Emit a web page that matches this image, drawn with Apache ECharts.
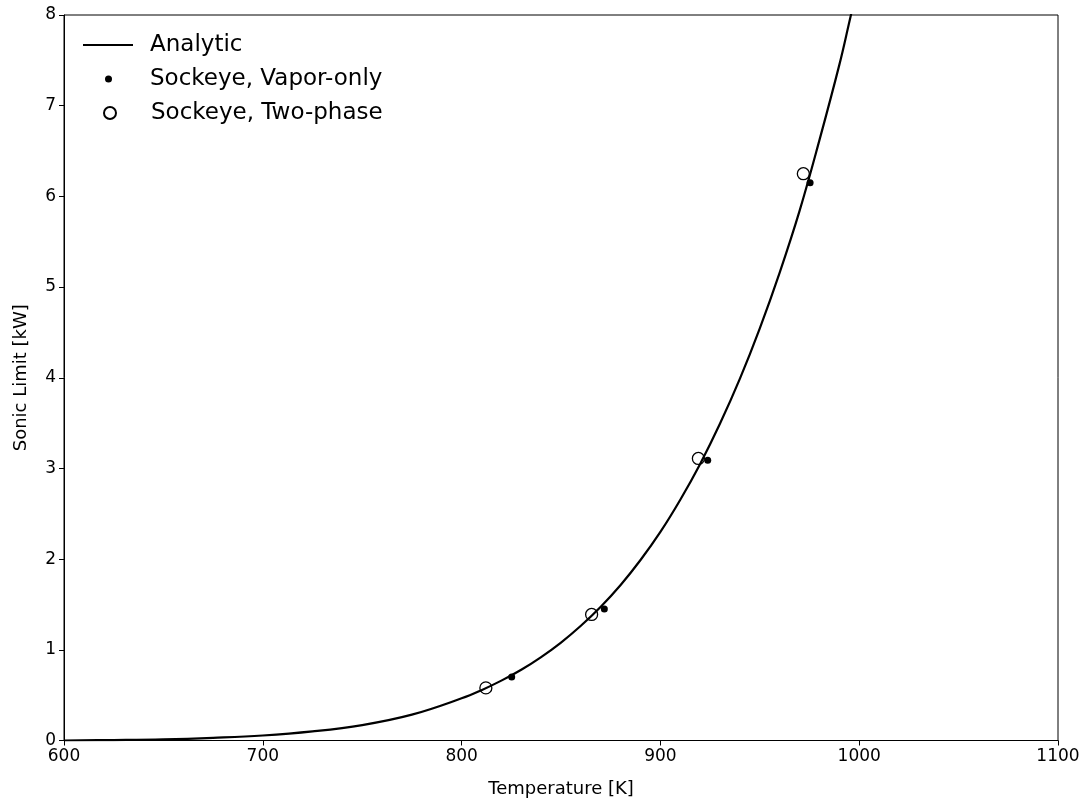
<!DOCTYPE html>
<html>
<head>
<meta charset="utf-8">
<script src="https://cdn.jsdelivr.net/npm/echarts@6/dist/echarts.min.js"></script>
<style>
  html, body { margin: 0; padding: 0; background: #fff; }
  #chart { width: 1087px; height: 801px; }
</style>
</head>
<body>
<div id="chart"></div>
<script>
// analytic curve
const analyticT = [600, 625, 650, 675, 700, 725, 750, 775, 800, 810, 820, 830, 840, 850, 860, 870, 880, 890, 900, 910, 920, 930, 940, 950, 960, 970, 980, 990, 995, 1000];
const analyticQ = [0.0, 0.005, 0.013, 0.03, 0.055, 0.1, 0.17, 0.285, 0.465, 0.555, 0.66, 0.78, 0.92, 1.08, 1.265, 1.475, 1.715, 1.99, 2.30, 2.655, 3.05, 3.495, 3.99, 4.545, 5.16, 5.84, 6.62, 7.45, 7.92, 8.4];

// Sockeye results
const vaporT = [825.2, 871.8, 923.8, 975.3];
const vaporQ = [0.70, 1.45, 3.09, 6.15];
const twoPhaseT = [812.2, 865.4, 919.1, 971.9];
const twoPhaseQ = [0.58, 1.39, 3.11, 6.25];

const xTicks = [600, 700, 800, 900, 1000, 1100];
const yTicks = [0, 1, 2, 3, 4, 5, 6, 7, 8];

const zip = (a, b) => a.map((v, i) => [v, b[i]]);

const chart = echarts.init(document.getElementById('chart'));
const font = 'DejaVu Sans';

const legendText = { fontFamily: font, fontSize: 23, color: '#000', lineHeight: 26 };
const legendBase = { orient: 'vertical', selectedMode: false, padding: 0 };

const option = {
  animation: false,
  backgroundColor: '#fff',
  textStyle: { fontFamily: font },
  grid: {
    left: 64, right: 29, top: 15, bottom: 60.5,
    containLabel: false, outerBoundsMode: 'none',
    show: true, borderColor: '#000', borderWidth: 1, backgroundColor: 'transparent',
  },
  legend: [
    Object.assign({}, legendBase, {
      data: [{ name: 'Analytic', icon: 'rect' }],
      left: 83, top: 45 - 13, itemWidth: 50, itemHeight: 2.2,
      textStyle: Object.assign({}, legendText, { padding: [0, 0, 0, 12] }),
    }),
    Object.assign({}, legendBase, {
      data: [{ name: 'Sockeye, Vapor-only', icon: 'circle' }],
      left: 105, top: 79 - 13, itemWidth: 7, itemHeight: 7,
      textStyle: Object.assign({}, legendText, { padding: [0, 0, 0, 33] }),
    }),
    Object.assign({}, legendBase, {
      data: [{ name: 'Sockeye, Two-phase', icon: 'circle' }],
      left: 103, top: 113 - 13, itemWidth: 12, itemHeight: 12,
      textStyle: Object.assign({}, legendText, { padding: [0, 0, 0, 30] }),
    }),
  ],
  xAxis: {
    type: 'value',
    min: xTicks[0], max: xTicks[xTicks.length - 1], interval: 100,
    name: 'Temperature [K]', nameLocation: 'middle', nameGap: 40,
    nameTextStyle: { fontFamily: font, fontSize: 18, color: '#000' },
    axisLine: { onZero: false, lineStyle: { color: '#000', width: 1 } },
    axisTick: { show: true, inside: false, length: 5, lineStyle: { color: '#000' } },
    axisLabel: { fontFamily: font, fontSize: 17, color: '#000', margin: 8, formatter: (v) => String(v) },
    splitLine: { show: false },
  },
  yAxis: {
    type: 'value',
    min: yTicks[0], max: yTicks[yTicks.length - 1], interval: 1,
    name: 'Sonic Limit [kW]', nameLocation: 'middle', nameGap: 34,
    nameTextStyle: { fontFamily: font, fontSize: 18, color: '#000' },
    axisLine: { onZero: false, lineStyle: { color: '#000', width: 1 } },
    axisTick: { show: true, inside: false, length: 5, lineStyle: { color: '#000' } },
    axisLabel: { fontFamily: font, fontSize: 17, color: '#000', margin: 8, formatter: (v) => String(v) },
    splitLine: { show: false },
  },
  series: [
    {
      name: 'Analytic',
      type: 'line',
      data: zip(analyticT, analyticQ),
      smooth: 0.4,
      showSymbol: false,
      symbol: 'none',
      clip: true,
      lineStyle: { color: '#000', width: 2.2 },
      itemStyle: { color: '#000' },
      z: 2,
    },
    {
      name: 'Sockeye, Vapor-only',
      type: 'scatter',
      data: zip(vaporT, vaporQ),
      symbol: 'circle',
      symbolSize: 7,
      itemStyle: { color: '#000', opacity: 1 },
      z: 3,
    },
    {
      name: 'Sockeye, Two-phase',
      type: 'scatter',
      data: zip(twoPhaseT, twoPhaseQ),
      symbol: 'circle',
      symbolSize: 12,
      itemStyle: { color: 'rgba(255,255,255,0)', borderColor: '#000', borderWidth: 1.3, opacity: 1 },
      z: 4,
    },
  ],
};

chart.setOption(option);
window.addEventListener('resize', chart.resize);
</script>
</body>
</html>
